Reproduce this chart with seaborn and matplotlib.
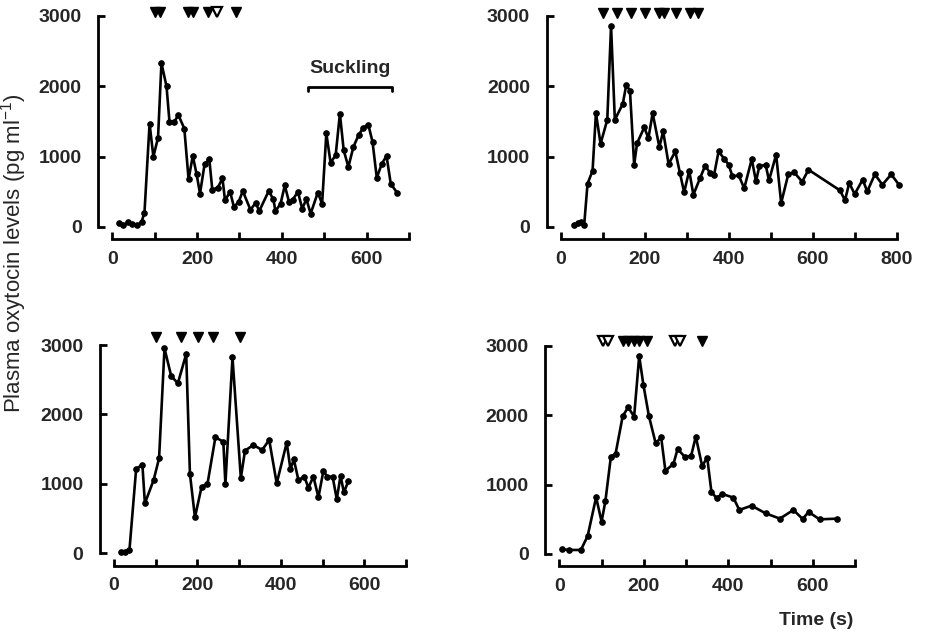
import matplotlib
matplotlib.use("Agg")
import matplotlib.pyplot as plt
import seaborn as sns
import pandas as pd

# --- data (time in s, oxytocin in pg/ml) ---
time_a = [16, 26, 38, 47, 59, 69, 76, 88, 97, 108, 116, 128, 135, 146, 156, 170, 180, 190, 199, 207,
          218, 229, 236, 249, 260, 266, 278, 287, 298, 308, 326, 338, 347, 369, 380, 385, 397, 407, 417, 426,
          438, 448, 458, 468, 485, 495, 505, 515, 527, 537, 546, 557, 569, 581, 592, 604, 614, 624, 636, 647,
          657, 672]
oxy_a = [57, 24, 71, 38, 24, 71, 204, 1470, 1000, 1270, 2330, 2000, 1495, 1495, 1590, 1400, 680, 1010, 750, 475,
         900, 960, 530, 560, 690, 380, 500, 285, 355, 510, 245, 340, 230, 510, 395, 225, 330, 590, 355, 390,
         500, 260, 395, 190, 490, 330, 1330, 915, 1020, 1610, 1090, 855, 1140, 1305, 1410, 1455, 1210, 700, 900, 1010,
         615, 485]
filled_a = [101, 113, 179, 191, 226, 293]
open_a = [246]

time_b = [32, 42, 48, 56, 64, 76, 84, 95, 111, 120, 129, 148, 156, 165, 175, 182, 199, 209, 219, 235,
          244, 257, 273, 284, 294, 306, 316, 332, 344, 356, 365, 376, 390, 400, 409, 424, 437, 455, 465, 473,
          488, 496, 513, 525, 542, 556, 575, 590, 665, 677, 687, 700, 719, 730, 748, 766, 787, 806]
oxy_b = [28, 57, 66, 28, 615, 800, 1618, 1183, 1524, 2858, 1524, 1751, 2016, 1940, 885, 1192, 1415, 1263, 1618, 1136,
         1358, 894, 1074, 767, 492, 800, 459, 696, 871, 767, 733, 1074, 965, 885, 719, 733, 549, 965, 648, 861,
         885, 662, 1027, 341, 752, 776, 644, 814, 520, 379, 625, 468, 672, 506, 748, 601, 748, 596]
filled_b = [100, 135, 167, 202, 234, 246, 274, 308, 328]
open_b = []

time_c = [16, 26, 37, 53, 68, 74, 95, 108, 121, 137, 153, 173, 182, 194, 210, 224, 243, 262, 267, 284,
          304, 314, 334, 355, 372, 390, 414, 423, 431, 442, 456, 466, 478, 490, 502, 511, 524, 534, 543, 551,
          562]
oxy_c = [24, 24, 48, 1214, 1277, 720, 1056, 1368, 2952, 2554, 2448, 2870, 1142, 518, 960, 998, 1670, 1608, 998, 2822,
         1085, 1478, 1560, 1488, 1632, 1008, 1594, 1210, 1354, 1056, 1104, 946, 1104, 806, 1190, 1104, 1104, 778, 1118, 878,
         1042]
filled_c = [101, 160, 202, 238, 302]
open_c = []

time_d = [7, 24, 51, 67, 87, 100, 109, 122, 133, 150, 163, 177, 189, 199, 212, 228, 241, 251, 270, 280,
          298, 312, 323, 338, 350, 360, 372, 386, 412, 426, 455, 488, 522, 554, 576, 590, 616, 658]
oxy_d = [67, 58, 58, 259, 816, 466, 763, 1402, 1440, 1987, 2112, 1978, 2851, 2434, 1987, 1594, 1680, 1200, 1296, 1512,
         1392, 1416, 1690, 1267, 1387, 893, 806, 864, 811, 634, 696, 586, 509, 634, 504, 605, 499, 509]
filled_d = [150, 163, 176, 189, 208, 337]
open_d = [104, 116, 274, 286]

suckling = (462, 659)

sns.set_style("ticks")
plt.rcParams["font.family"] = ["Liberation Sans", "DejaVu Sans"]
plt.rcParams["mathtext.fontset"] = "custom"
plt.rcParams["mathtext.rm"] = "Liberation Sans"

fig = plt.figure(figsize=(9.27, 6.34), dpi=100)

panels = [
    ([0.1211, 0.6420, 0.3201, 0.3328], time_a, oxy_a, filled_a, open_a, 700, 3050),
    ([0.6048, 0.6420, 0.3625, 0.3328], time_b, oxy_b, filled_b, open_b, 800, 3040),
    ([0.1230, 0.1273, 0.3150, 0.3285], time_c, oxy_c, filled_c, open_c, 700, 3110),
    ([0.6034, 0.1262, 0.3190, 0.3286], time_d, oxy_d, filled_d, open_d, 700, 3060),
]

axes = []
for pos, t, y, filled, hollow, xmax, arrow_y in panels:
    ax = fig.add_axes(pos)
    df = pd.DataFrame({"t": t, "y": y})
    sns.lineplot(data=df, x="t", y="y", ax=ax, color="black", linewidth=1.9,
                 marker="o", markersize=4, markeredgecolor="black",
                 estimator=None, sort=False, clip_on=False)
    if filled:
        ax.plot(filled, [arrow_y] * len(filled), "v", color="black", markersize=6.5, clip_on=False)
    if hollow:
        ax.plot(hollow, [arrow_y] * len(hollow), "v", markerfacecolor="white", markeredgecolor="black",
                markeredgewidth=1.6, markersize=6.5, clip_on=False)

    ax.set_xlim(0, xmax)
    ax.set_ylim(0, 3000)
    ax.set_xticks(range(0, xmax + 1, 200))
    ax.set_xticks(range(100, xmax + 1, 200), minor=True)
    ax.set_yticks([0, 1000, 2000, 3000])
    ax.set_xlabel("")
    ax.set_ylabel("")
    for s in ["top", "right"]:
        ax.spines[s].set_visible(False)
    ax.spines["left"].set_position(("outward", 10))
    ax.spines["bottom"].set_position(("outward", 9))
    for s in ["left", "bottom"]:
        ax.spines[s].set_linewidth(2)
        ax.spines[s].set_color("black")
    ax.tick_params(axis="both", which="both", direction="in", length=5, width=2, color="black")
    ax.tick_params(axis="y", pad=12, labelsize=14)
    ax.tick_params(axis="x", pad=8, labelsize=14)
    for lab in ax.get_xticklabels() + ax.get_yticklabels():
        lab.set_fontweight("bold")
    axes.append(ax)

# suckling period bar on the first panel
ax = axes[0]
ax.plot([suckling[0], suckling[0], suckling[1], suckling[1]], [1930, 1985, 1985, 1930],
        color="black", linewidth=2, clip_on=False)
ax.text(sum(suckling) / 2, 2250, "Suckling", ha="center", va="center", fontsize=14, fontweight="bold")

fig.text(0.015, 0.60, r"Plasma oxytocin levels (pg ml$^{-1}$)", rotation=90,
         ha="center", va="center", fontsize=16)
fig.text(0.880, 0.022, "Time (s)", ha="center", va="center", fontsize=14, fontweight="bold")

fig.savefig("out.png", dpi=100)
